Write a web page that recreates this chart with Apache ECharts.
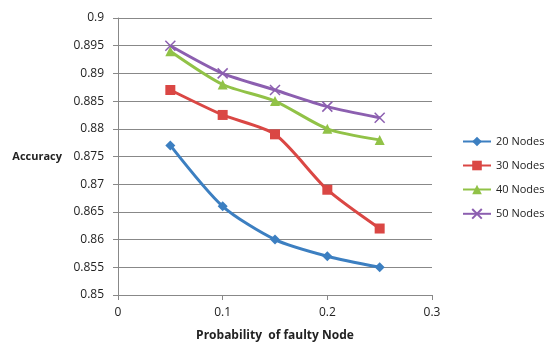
<!DOCTYPE html>
<html>
<head>
<meta charset="utf-8">
<script src="https://cdn.jsdelivr.net/npm/echarts@6/dist/echarts.min.js"></script>
<style>
html, body { margin: 0; padding: 0; background: #fff; }
#chart { width: 545px; height: 342px; }
</style>
</head>
<body>
<div id="chart"></div>
<script>
var probabilities = [0.05, 0.1, 0.15, 0.2, 0.25];
var nodes20 = [0.877, 0.866, 0.860, 0.857, 0.855];
var nodes30 = [0.887, 0.8825, 0.879, 0.869, 0.862];
var nodes40 = [0.894, 0.888, 0.885, 0.880, 0.878];
var nodes50 = [0.895, 0.890, 0.887, 0.884, 0.882];
var seriesNames = ['20 Nodes', '30 Nodes', '40 Nodes', '50 Nodes'];

var chart = echarts.init(document.getElementById('chart'));
var font = 'Open Sans';
var crossPath = 'path://M0,0L10,10M10,0L0,10';

function pairs(values) {
    var out = [];
    for (var i = 0; i < probabilities.length; i++) {
        out.push([probabilities[i], values[i]]);
    }
    return out;
}

function makeSerie(name, values, color, symbol, size) {
    return {
        name: name,
        type: 'line',
        data: pairs(values),
        smooth: 0.25,
        symbol: symbol,
        symbolSize: size,
        lineStyle: { color: color, width: 3 },
        itemStyle: { color: color, borderColor: color, borderWidth: symbol == crossPath ? 1.5 : 0 }
    };
}

chart.setOption({
    animation: false,
    textStyle: { fontFamily: font },
    grid: { left: 118, right: 113, top: 18, bottom: 47, outerBoundsMode: 'none' },
    legend: {
        orient: 'vertical',
        left: 457,
        top: 131,
        itemWidth: 28,
        itemHeight: 12,
        itemGap: 13,
        textStyle: { fontSize: 11, color: '#222', fontFamily: font },
        data: seriesNames
    },
    xAxis: {
        type: 'value',
        min: 0,
        max: 0.3,
        interval: 0.1,
        name: 'Probability  of faulty Node',
        nameLocation: 'middle',
        nameGap: 35,
        nameTextStyle: { fontSize: 12, fontWeight: 'bold', color: '#222', fontFamily: font },
        axisLine: { lineStyle: { color: '#888' } },
        axisTick: { show: true, length: 5, lineStyle: { color: '#888' } },
        axisLabel: { fontSize: 12, color: '#222', margin: 12 },
        splitLine: { show: false }
    },
    yAxis: {
        type: 'value',
        min: 0.85,
        max: 0.9,
        interval: 0.005,
        name: 'Accuracy',
        nameLocation: 'middle',
        nameRotate: 0,
        nameGap: 56,
        nameTextStyle: { fontSize: 11, fontWeight: 'bold', color: '#222', fontFamily: font, align: 'right' },
        axisLine: { show: true, lineStyle: { color: '#888' } },
        axisTick: { show: true, length: 5, lineStyle: { color: '#888' } },
        axisLabel: {
            fontSize: 12,
            color: '#222',
            margin: 14,
            formatter: function(v) { return String(+v.toFixed(3)); }
        },
        splitLine: { lineStyle: { color: '#888' } }
    },
    series: [
        makeSerie('20 Nodes', nodes20, '#3C7FC1', 'diamond', 10),
        makeSerie('30 Nodes', nodes30, '#DA4744', 'rect', 10),
        makeSerie('40 Nodes', nodes40, '#91C247', 'triangle', 10),
        makeSerie('50 Nodes', nodes50, '#8C5FB0', crossPath, 10)
    ]
});
</script>
</body>
</html>
